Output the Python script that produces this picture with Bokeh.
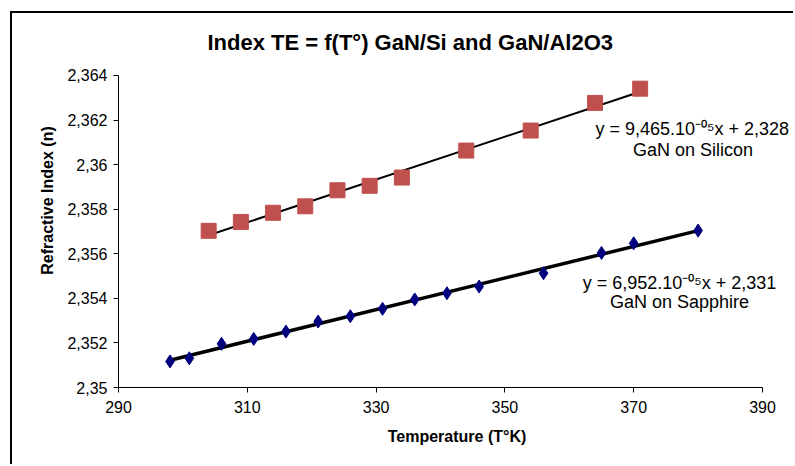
import numpy as np
from bokeh.plotting import figure
from bokeh.models import Label, FixedTicker, Range1d
from bokeh.embed import file_html
from bokeh.resources import INLINE

# Refractive index (TE) versus temperature for GaN grown on two substrates
si_temp = [304, 309, 314, 319, 324, 329, 334, 344, 354, 364, 371]
si_index = [2.35703, 2.35743, 2.35784, 2.35813, 2.35885, 2.35905, 2.35942,
            2.36063, 2.36153, 2.36277, 2.36341]

sa_temp = [298, 301, 306, 311, 316, 321, 326, 331, 336, 341, 346, 356, 365, 370, 380]
sa_index = [2.35117, 2.35131, 2.35196, 2.35218, 2.35251, 2.35296, 2.35320, 2.35353,
            2.35395, 2.35423, 2.35453, 2.35513, 2.35604, 2.35647, 2.35704]

x_ticks = [290, 310, 330, 350, 370, 390]
y_ticks = [2.350, 2.352, 2.354, 2.356, 2.358, 2.360, 2.362, 2.364]
y_tick_labels = ["2,35", "2,352", "2,354", "2,356", "2,358", "2,36", "2,362", "2,364"]

si_equation = "y = 9,465.10\u207b\u2070\u2075x + 2,328"
sa_equation = "y = 6,952.10\u207b\u2070\u2075x + 2,331"

FONT = "Liberation Sans"

# The frame runs to the figure's top and right edges so the title and the
# equations can sit in it; the axes themselves stop at their bounds.
p = figure(width=783, height=453, output_backend="svg", toolbar_location=None,
           x_range=Range1d(290, 395.124), y_range=Range1d(2.350, 2.366782),
           min_border_left=106, min_border_right=0, min_border_top=0,
           min_border_bottom=79)
p.styles = {"margin-left": "10px", "margin-top": "11px",
            "border-left": "2px solid black", "border-top": "2px solid black"}
p.outline_line_color = None
p.xgrid.visible = False
p.ygrid.visible = False
p.background_fill_color = "white"
p.border_fill_color = "white"

for ax in (p.xaxis[0], p.yaxis[0]):
    ax.axis_line_color = "black"
    ax.major_tick_line_color = "black"
    ax.major_tick_in = 0
    ax.major_tick_out = 5
    ax.minor_tick_line_color = None
    ax.major_label_text_font = FONT
    ax.major_label_text_font_size = "16px"
    ax.major_label_text_color = "black"
    ax.axis_label_text_font = FONT
    ax.axis_label_text_font_size = "16px"
    ax.axis_label_text_font_style = "bold"
    ax.axis_label_text_color = "black"

p.xaxis.bounds = (290, 390)
p.yaxis.bounds = (2.350, 2.364)
p.xaxis.ticker = FixedTicker(ticks=x_ticks)
p.yaxis.ticker = FixedTicker(ticks=y_ticks)
p.yaxis.major_label_overrides = {t: s for t, s in zip(y_ticks, y_tick_labels)}
p.xaxis.axis_label = "Temperature (T\u00b0K)"
p.yaxis.axis_label = "Refractive Index (n)"
p.xaxis.major_label_standoff = 8
p.yaxis.major_label_standoff = 6
p.xaxis.axis_label_standoff = 12
p.yaxis.axis_label_standoff = 8

# Linear trendlines fitted on each series
for temps, idx, width in ((si_temp, si_index, 2), (sa_temp, sa_index, 3.5)):
    slope, icpt = np.polyfit(temps, idx, 1)
    xs = [min(temps), max(temps)]
    p.line(xs, [slope * x + icpt for x in xs], line_color="black", line_width=width)

p.scatter(si_temp, si_index, marker="square", size=15,
          fill_color="#C0504D", line_color="#C0504D")
p.scatter(sa_temp, sa_index, marker="diamond", size=13,
          fill_color="#00007F", line_color="#00007F")

def add_text(x, y, text, size, bold=False):
    p.add_layout(Label(x=x, y=y, text=text, text_font=FONT, text_font_size=size,
                       text_font_style="bold" if bold else "normal",
                       text_color="black", text_align="center",
                       text_baseline="middle"))

add_text(335.3, 2.36548, "Index TE = f(T\u00b0) GaN/Si and GaN/Al2O3", "22px", bold=True)
add_text(379.1, 2.36162, si_equation, "18px")
add_text(379.2, 2.36064, "GaN on Silicon", "18px")
add_text(377.1, 2.35471, sa_equation, "18px")
add_text(377.1, 2.35382, "GaN on Sapphire", "18px")

open("out.html", "w").write(file_html(p, INLINE))
